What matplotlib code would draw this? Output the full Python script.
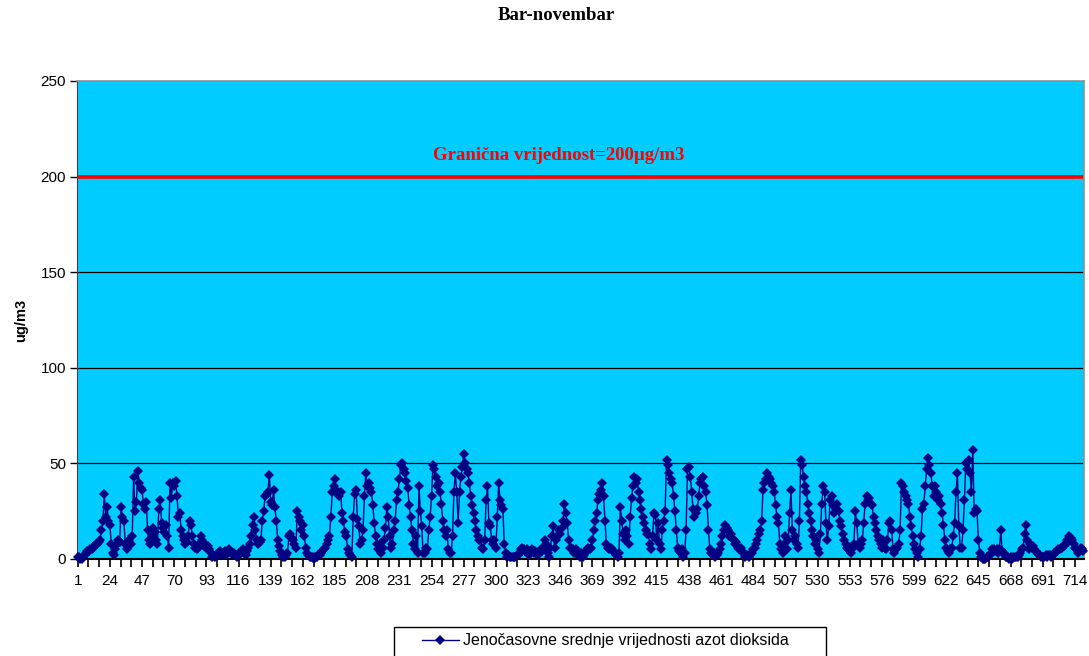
import matplotlib
matplotlib.use("Agg")
import matplotlib.pyplot as plt
import numpy as np
from matplotlib.patches import Rectangle
from matplotlib.ticker import FixedLocator

# ---------------------------------------------------------------------------
# Hourly NO2 values (ug/m3), 6 days per block
# ---------------------------------------------------------------------------
days_01_06 = [
    1, 1, 0, 0, 1, 2, 3, 4, 4, 5, 5, 6, 7, 8, 8, 9, 10, 15, 20, 34, 22, 27, 20, 18,
    8, 3, 2, 5, 8, 10, 9, 27, 22, 20, 8, 5, 8, 10, 8, 12, 43, 25, 30, 46, 40, 37, 36, 29,
    26, 30, 15, 10, 8, 12, 16, 14, 10, 8, 26, 31, 19, 16, 14, 18, 12, 6, 40, 32, 40, 38, 41, 33,
    22, 24, 15, 12, 10, 8, 9, 12, 20, 18, 12, 8, 6, 5, 6, 8, 12, 10, 7, 8, 6, 7, 5, 3,
    1, 2, 1, 2, 3, 3, 4, 2, 3, 4, 2, 3, 5, 4, 3, 2, 3, 2, 1, 2, 3, 4, 5, 3,
    2, 4, 6, 8, 12, 18, 22, 15, 10, 8, 9, 10, 20, 25, 33, 34, 35, 44, 30, 28, 36, 27, 20, 10,
]
days_07_12 = [
    7, 4, 2, 1, 1, 2, 3, 12, 13, 11, 10, 8, 6, 25, 22, 20, 15, 18, 12, 6, 3, 2, 1, 1,
    1, 0, 1, 1, 2, 2, 3, 4, 5, 6, 8, 10, 12, 22, 35, 38, 42, 36, 34, 33, 35, 24, 20, 14,
    12, 5, 3, 2, 1, 22, 34, 36, 21, 17, 8, 10, 15, 33, 45, 38, 40, 37, 35, 28, 19, 12, 8, 5,
    8, 3, 6, 10, 16, 27, 22, 12, 6, 8, 15, 20, 31, 35, 42, 49, 50, 47, 45, 41, 37, 28, 22, 15,
    8, 5, 12, 3, 38, 25, 17, 3, 3, 6, 5, 15, 22, 33, 49, 47, 43, 38, 40, 35, 29, 20, 15, 12,
    15, 5, 3, 3, 12, 35, 45, 35, 19, 35, 43, 48, 55, 50, 47, 45, 40, 33, 28, 24, 20, 15, 12, 10,
]
days_13_18 = [
    10, 6, 5, 10, 31, 38, 19, 17, 10, 8, 10, 6, 22, 40, 31, 28, 26, 8, 3, 1, 2, 1, 1, 1,
    1, 1, 2, 2, 3, 5, 6, 5, 4, 5, 3, 2, 4, 5, 3, 4, 3, 2, 3, 5, 4, 6, 10, 8,
    3, 1, 6, 12, 17, 6, 10, 12, 15, 13, 16, 20, 29, 24, 19, 10, 6, 6, 5, 3, 5, 3, 2, 1,
    3, 1, 2, 3, 5, 6, 5, 6, 10, 15, 20, 24, 31, 34, 36, 40, 33, 20, 8, 6, 5, 6, 5, 4,
    3, 2, 1, 3, 27, 20, 13, 10, 15, 12, 8, 22, 32, 38, 43, 40, 42, 35, 31, 26, 22, 19, 15, 13,
    13, 8, 5, 12, 24, 23, 10, 19, 8, 5, 15, 20, 25, 52, 49, 45, 42, 40, 33, 25, 15, 6, 4, 3,
]
days_19_24 = [
    5, 1, 3, 15, 47, 48, 43, 35, 26, 22, 24, 26, 33, 40, 42, 43, 38, 35, 28, 15, 5, 3, 2, 3,
    1, 2, 3, 5, 8, 12, 15, 18, 16, 15, 12, 13, 11, 10, 8, 9, 6, 5, 6, 4, 3, 1, 2, 2,
    1, 2, 3, 5, 6, 8, 10, 13, 15, 20, 36, 40, 42, 45, 43, 42, 40, 38, 35, 28, 22, 19, 8, 5,
    3, 8, 12, 5, 10, 24, 36, 15, 10, 12, 8, 6, 20, 52, 49, 43, 38, 35, 29, 24, 20, 15, 12, 8,
    10, 5, 3, 13, 29, 38, 35, 19, 10, 17, 31, 33, 28, 24, 26, 29, 25, 20, 17, 13, 10, 8, 6, 5,
    5, 3, 6, 8, 25, 19, 8, 6, 8, 10, 19, 29, 33, 31, 32, 29, 28, 22, 19, 15, 12, 10, 8, 6,
]
days_25_30 = [
    10, 6, 5, 10, 19, 20, 15, 5, 3, 5, 6, 8, 15, 40, 38, 35, 33, 31, 29, 22, 17, 12, 8, 5,
    3, 1, 5, 12, 26, 29, 38, 47, 53, 49, 45, 38, 33, 38, 35, 31, 33, 29, 24, 18, 10, 6, 4, 3,
    5, 6, 12, 19, 35, 45, 17, 6, 6, 15, 31, 50, 47, 52, 45, 35, 57, 24, 26, 25, 10, 3, 1, 0,
    0, 0, 1, 1, 2, 3, 5, 5, 4, 5, 3, 5, 15, 4, 3, 2, 1, 1, 0, 1, 0, 1, 1, 1,
    1, 2, 3, 5, 6, 13, 18, 10, 5, 8, 6, 7, 5, 4, 3, 2, 2, 1, 1, 1, 2, 1, 2, 2,
    1, 2, 3, 3, 4, 5, 5, 6, 6, 7, 8, 10, 9, 12, 11, 10, 8, 6, 5, 3, 4, 6, 5, 4,
]

LIMIT = 200
Y_TICKS = [0, 50, 100, 150, 200, 250]
X_LABEL_STEP = 23

TITLE = "Bar-novembar"
Y_LABEL = "ug/m3"
LIMIT_LABEL = "Granična vrijednost=200µg/m3"
SERIES_LABEL = "Jenočasovne srednje vrijednosti azot dioksida"

BG = "#00CCFF"
NAVY = "#000080"
SERIF = ["Liberation Serif", "DejaVu Serif"]

values = np.array(days_01_06 + days_07_12 + days_13_18 + days_19_24 + days_25_30)
hours = np.arange(1, len(values) + 1)

plt.rcParams["font.family"] = ["Liberation Sans", "DejaVu Sans"]

W, H = 1089, 656
fig = plt.figure(figsize=(W / 100, H / 100), dpi=100)
ax = fig.add_axes([77 / W, 1 - 559 / H, (1084 - 77) / W, (559 - 81) / H])
ax.set_facecolor(BG)

for y in Y_TICKS[1:-1]:
    if y != LIMIT:
        ax.axhline(y, color="black", lw=0.9, zorder=1)
ax.axhline(LIMIT, color="#FF0000", lw=2.6, zorder=2)

line, = ax.plot(hours, values, color=NAVY, lw=1.0, marker="D", markersize=5.3,
                markeredgewidth=0, zorder=3, clip_on=False)

ax.text(345, 211, LIMIT_LABEL, color="#FF0000", fontsize=13.5, fontweight="bold",
        family=SERIF, ha="center", va="center")

ax.set_xlim(0.5, len(values) + 0.5)
ax.set_ylim(0, 250)
ax.set_yticks(Y_TICKS)
ax.set_yticklabels([str(v) for v in Y_TICKS], fontsize=11)

major = list(range(1, len(values) + 1, X_LABEL_STEP))
ax.set_xticks(major)
ax.set_xticklabels([str(v) for v in major], fontsize=11)
minor = [m + k * X_LABEL_STEP / 3 for m in major for k in (1, 2)]
ax.xaxis.set_minor_locator(FixedLocator(minor))
ax.tick_params(axis="x", which="both", direction="out", length=6, width=1.2,
               color="black", pad=5)
ax.tick_params(axis="y", direction="out", length=5, width=1, color="black", pad=3)

for side in ("top", "right"):
    ax.spines[side].set_color("#909090")
    ax.spines[side].set_linewidth(1.2)
ax.spines["left"].set_color("#404040")
ax.spines["bottom"].set_color("black")
ax.spines["bottom"].set_linewidth(1.5)

ax.set_ylabel(Y_LABEL, fontsize=10.5, fontweight="bold", labelpad=9)
fig.text(556 / W, 1 - 16 / H, TITLE, fontsize=13.5, fontweight="bold",
         family=SERIF, ha="center", va="center")

# legend box running off the bottom edge, as in the reference
fig.add_artist(Rectangle((394 / W, -0.02), (826 - 394) / W, 0.02 + (H - 627) / H,
                         transform=fig.transFigure, facecolor="white",
                         edgecolor="black", lw=1.0))
fig.legend([line], [SERIES_LABEL], loc="center left",
           bbox_to_anchor=(422 / W, 1 - 641 / H), fontsize=11.5, frameon=False,
           handlelength=2.3, borderpad=0, borderaxespad=0, handletextpad=0.25)

fig.savefig("out.png", dpi=100)
